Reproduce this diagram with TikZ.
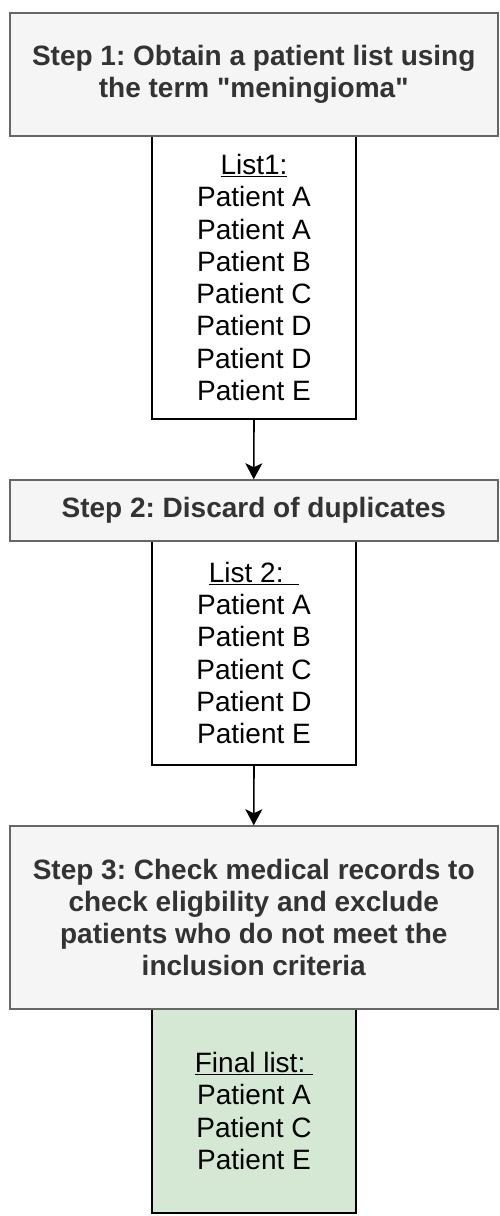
\documentclass[tikz,border=0pt]{standalone}
\usepackage{fontspec}
\setmainfont{Liberation Sans}[Ligatures=TeXOff]
\usetikzlibrary{arrows.meta}
\definecolor{stepfill}{HTML}{F5F5F5}
\definecolor{stepdraw}{HTML}{666666}
\definecolor{steptext}{HTML}{333333}
\definecolor{finalfill}{HTML}{D5E8D4}
\frenchspacing
\begin{document}
\begin{tikzpicture}[x=1pt,y=-1pt,
  stepbox/.style={draw=stepdraw,fill=stepfill,line width=1.5pt,text=steptext,
    minimum width=488pt,inner sep=0pt,align=center,
    font=\fontsize{28}{32}\selectfont\bfseries\frenchspacing},
  listbox/.style={draw=black,line width=1.8pt,minimum width=204pt,inner sep=0pt,
    align=center,font=\fontsize{28}{32.3}\selectfont\frenchspacing},
  flow/.style={line width=1.6pt,-{Stealth[length=16pt,width=17pt,inset=4pt]}}]
\useasboundingbox (0,0) rectangle (499,1216);
% list boxes first, steps drawn on top
\node[listbox,minimum height=283pt] (l1) at (254,277.5)
  {\underline{List1:}\\Patient A\\Patient A\\Patient B\\Patient C\\Patient D\\Patient D\\Patient E};
\node[listbox,minimum height=224pt] (l2) at (254,653)
  {\underline{List 2:\ \ }\\Patient A\\Patient B\\Patient C\\Patient D\\Patient E};
\node[listbox,fill=finalfill,minimum height=204pt] (l3) at (254,1111)
  {\underline{Final list:\ }\\Patient A\\Patient C\\Patient E};
\node[stepbox,minimum height=123pt] (s1) at (253.75,74.5)
  {Step 1: Obtain a patient list using\\the term "meningioma"};
\node[stepbox,minimum height=61pt] (s2) at (253.75,510.5)
  {Step 2: Discard of duplicates};
\node[stepbox,minimum height=183pt] (s3) at (253.75,917.5)
  {Step 3: Check medical records to\\check eligbility and exclude\\patients who do not meet the\\inclusion criteria};
\draw[flow] (l1.south) -- (s2.north);
\draw[flow] (l2.south) -- (s3.north);
\end{tikzpicture}
\end{document}
